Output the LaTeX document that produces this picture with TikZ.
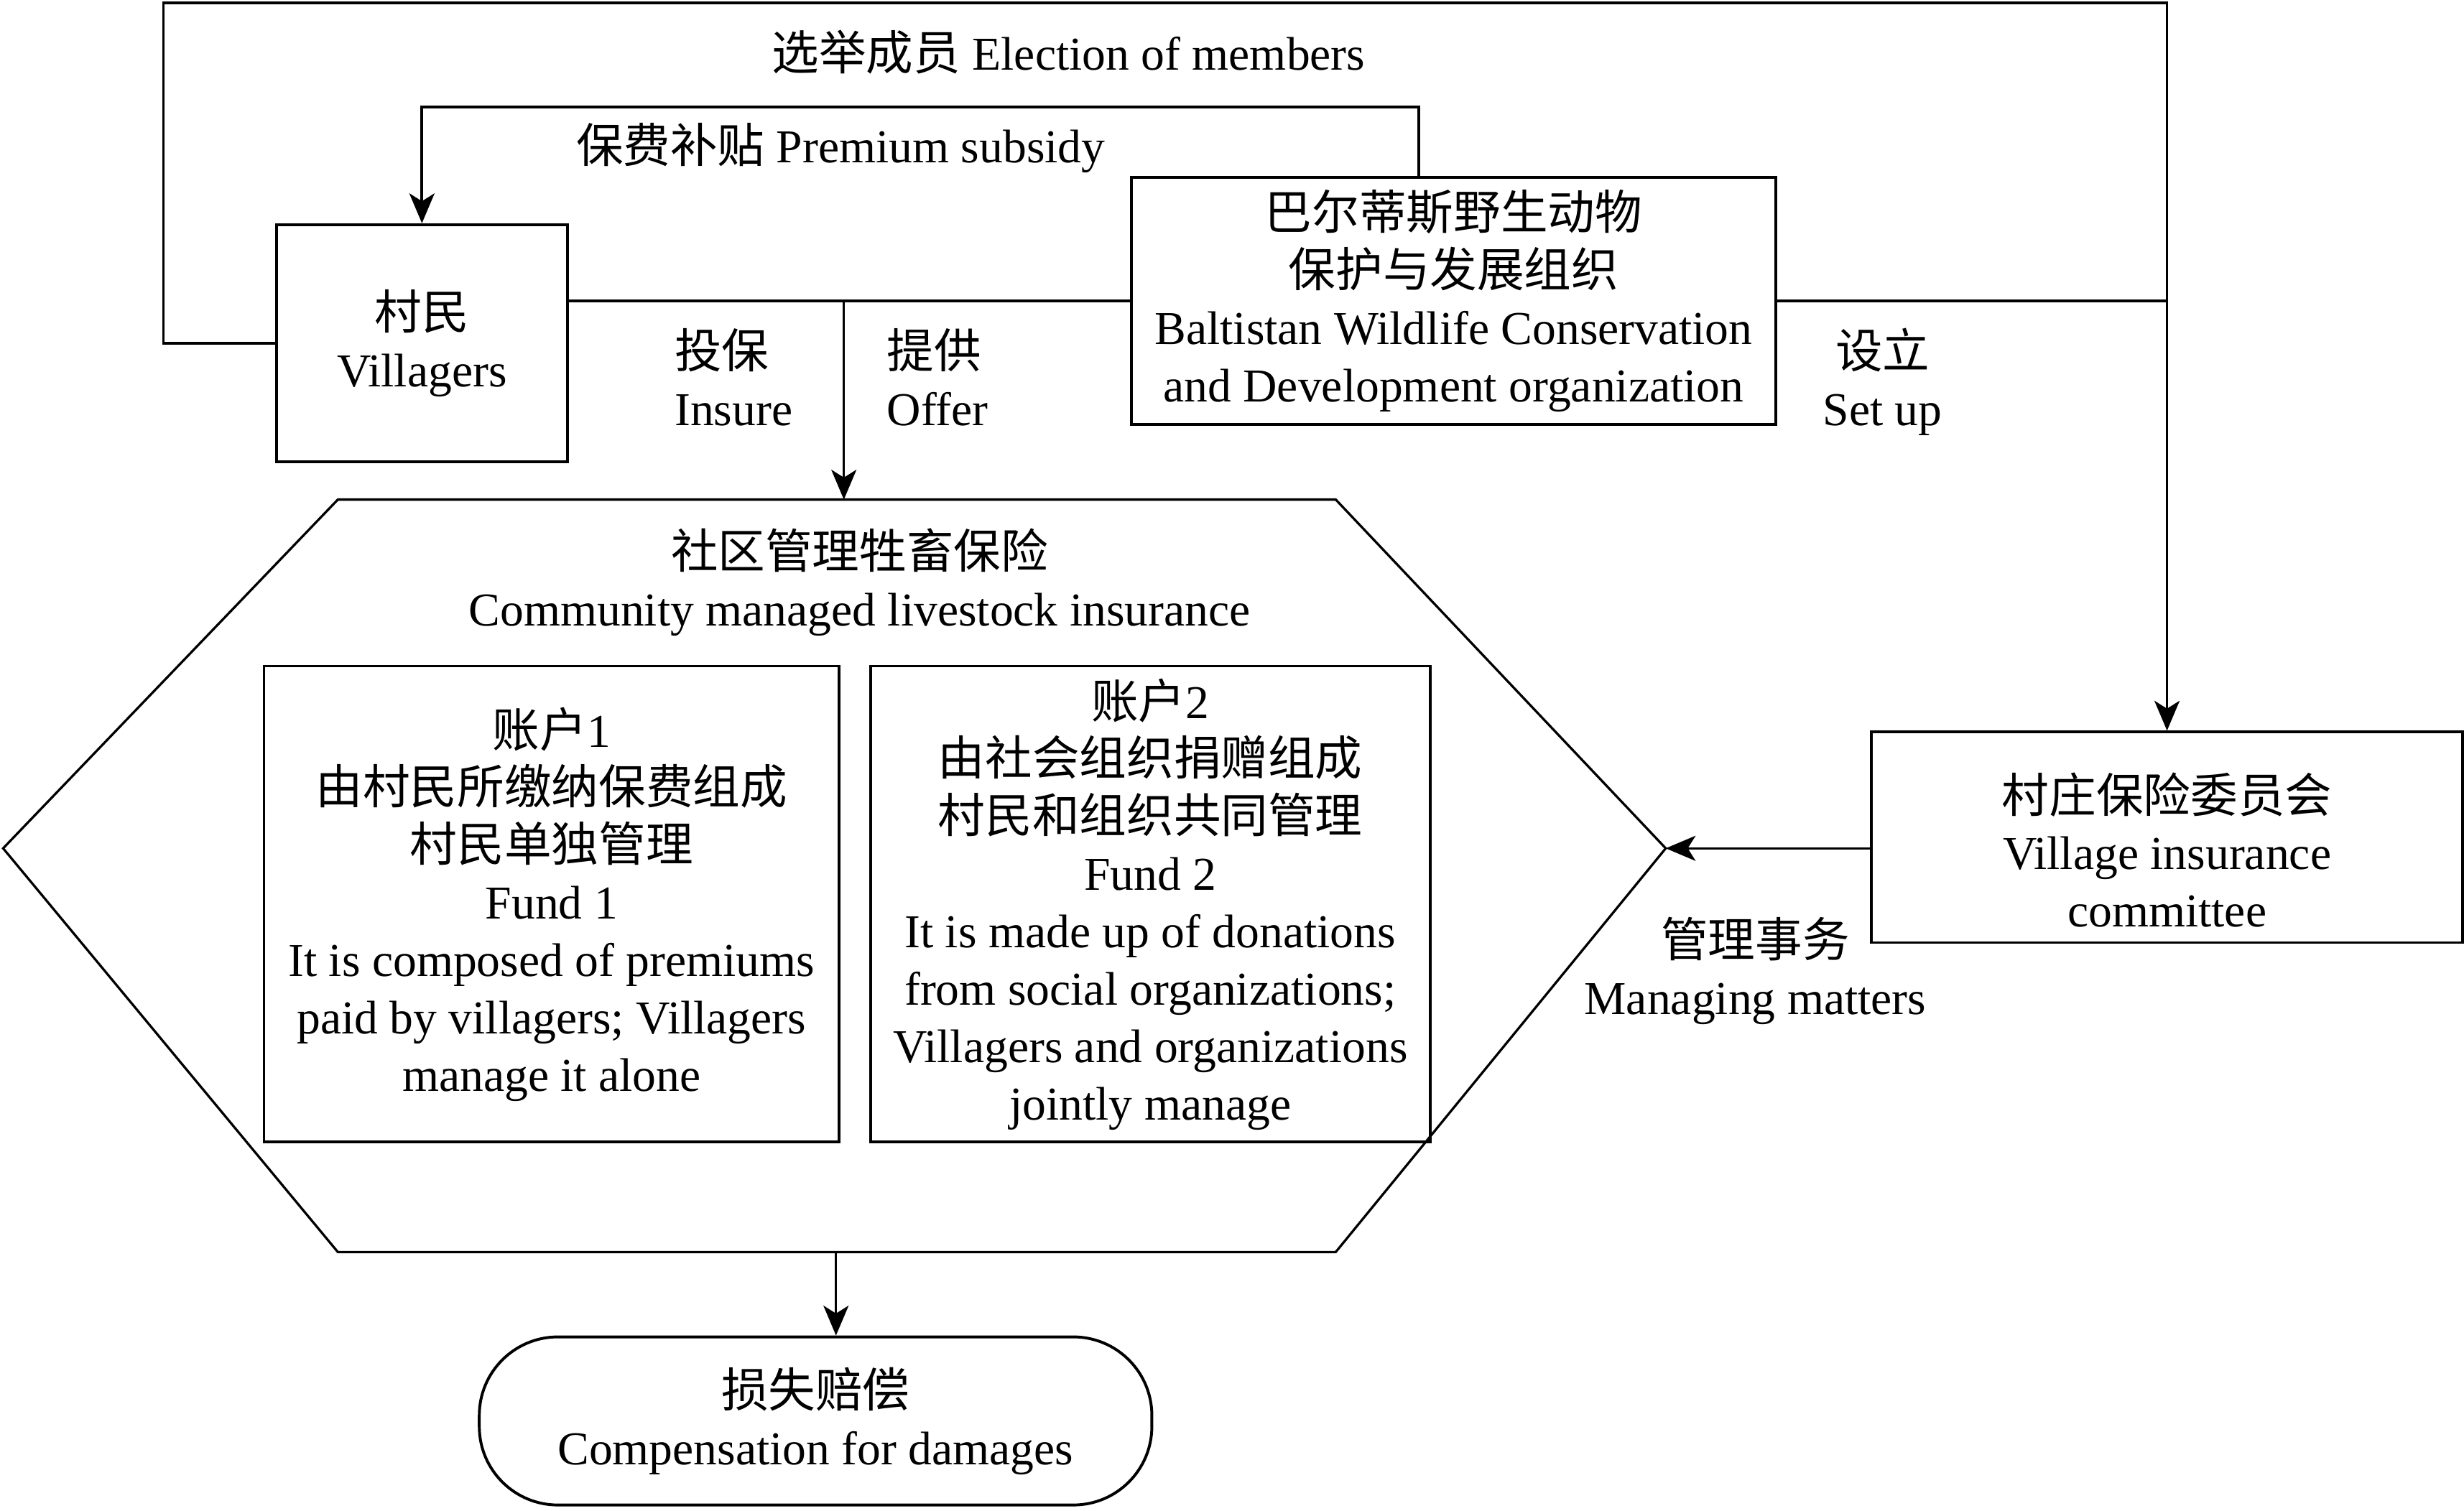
\documentclass[tikz,border=0pt]{standalone}
\usepackage{fontspec}
\setmainfont{Liberation Serif}
\newfontfamily\zhfont{Noto Sans CJK SC}
\newcommand{\zh}[1]{{\zhfont #1}}
\usetikzlibrary{arrows.meta}

\begin{document}
\begin{tikzpicture}[x=0.5pt, y=-0.5pt, font=\fontsize{15}{18.25}\selectfont,
		box/.style = {draw, line width=0.9pt, align=center, inner sep=0pt},
		lbl/.style = {align=center, inner sep=0pt},
		link/.style = {line width=0.7pt},
		loop/.style = {line width=0.85pt},
		arr/.style = {-{Stealth[length=9.5pt, width=8pt, inset=2.5pt]}}]
		
		\useasboundingbox (0,0) rectangle (1568,961.4);
		
		% boxes
		\node[box, minimum width=92.5pt, minimum height=75.5pt] (vil) at (268.5,218.5) {\zh{村民}\\Villagers};
		\node[box, minimum width=205pt, minimum height=78.5pt] (bwc) at (925,191.5) {\zh{巴尔蒂斯野生动物}\\\zh{保护与发展组织}\\Baltistan Wildlife Conservation\\and Development organization};
		\node[box, minimum width=188pt, minimum height=67pt] (com) at (1379,533) {};
		\node[lbl] (comtext) at (1379,541) {\zh{村庄保险委员会}\\Village insurance\\committee};
		\node[box, minimum width=183pt, minimum height=151.5pt] (fund1) at (351,575.5) {\zh{账户}1\\\zh{由村民所缴纳保费组成}\\\zh{村民单独管理}\\Fund 1\\It is composed of premiums\\paid by villagers; Villagers\\manage it alone};
		\node[box, minimum width=178pt, minimum height=151.5pt] (fund2) at (732,575.5) {\zh{账户}2\\\zh{由社会组织捐赠组成}\\\zh{村民和组织共同管理}\\Fund 2\\It is made up of donations\\from social organizations;\\Villagers and organizations\\jointly manage};
		\node[box, rounded corners=25pt, minimum width=214pt, minimum height=53.5pt] (comp) at (519,904.5) {\zh{损失赔偿}\\Compensation for damages};
		
		% hexagon
		\path[shape=coordinate]
		(2,540) coordinate(hexL)
		(215,318) coordinate(hexTL)
		(850,318) coordinate(hexTR)
		(1060,540) coordinate(hexR)
		(850,797) coordinate(hexBR)
		(215,797) coordinate(hexBL)
		(537,318) coordinate(hexT)
		(532,797) coordinate(hexB);
		\draw[line width=0.75pt] (hexL) -- (hexTL) -- (hexTR) -- (hexR) -- (hexBR) -- (hexBL) -- cycle;
		\node[lbl] (cmli) at (547,370.5) {\zh{社区管理牲畜保险}\\Community managed livestock insurance};
		
		% labels
		\node[lbl] (elect) at (680,33) {\zh{选举成员} Election of members};
		\node[lbl] (subs) at (535,94) {\zh{保费补贴} Premium subsidy};
		\node[lbl, align=left, anchor=west] (insure) at (429,240) {\zh{投保}\\Insure};
		\node[lbl, align=left, anchor=west] (offer) at (564,240) {\zh{提供}\\Offer};
		\node[lbl] (setup) at (1198,243) {\zh{设立}\\Set up};
		\node[lbl] (manage) at (1117,618) {\zh{管理事务}\\Managing matters};
		
		% connectors
		\path[shape=coordinate]
		(104,2) coordinate(topL)
		(1379,2) coordinate(topR)
		(903,68) coordinate(subsR);
		
		\draw[loop, arr] (vil.west) -- (vil.west -| topL) -- (topL) -- (topR) -- (com.north);
		\draw[loop] (bwc.east) -- (bwc.east -| topR);
		\draw[loop, arr] (bwc.north -| subsR) -- (subsR) -| (vil.north);
		\draw[loop] (vil.east |- bwc.west) -- (bwc.west);
		\draw[link, arr] (hexT |- bwc.west) -- (hexT);
		\draw[link, arr] (com.west |- hexR) -- (hexR);
		\draw[link, arr] (hexB) -- (hexB |- comp.north);
	\end{tikzpicture}
\end{document}
